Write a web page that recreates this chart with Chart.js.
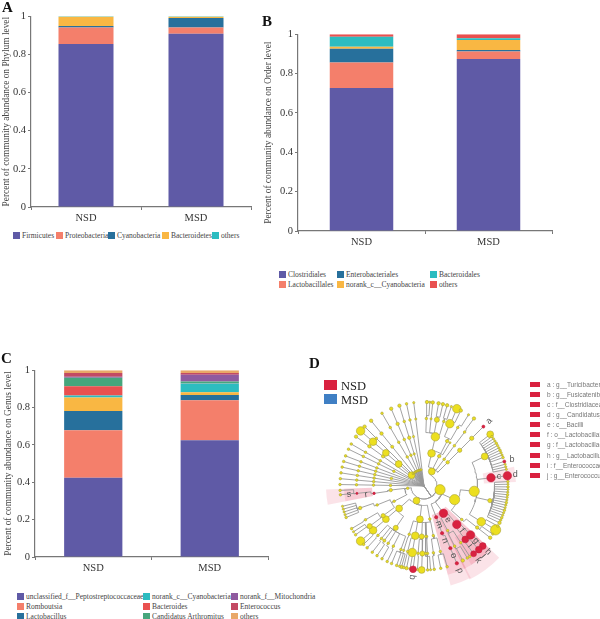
<!DOCTYPE html>
<html lang="en">
<head>
<meta charset="UTF-8">
<title>Community abundance</title>
<script src="https://cdn.jsdelivr.net/npm/chart.js"></script>
<style>
  html, body { margin: 0; padding: 0; background: #fff; }
  #page { position: relative; width: 600px; height: 619px; overflow: hidden; font-family: "Liberation Serif", serif; color: #333; }
  #page canvas { position: absolute; }
  .panel { position: absolute; font-weight: bold; font-size: 15px; color: #111; line-height: 15px; }
  .key { position: absolute; font-size: 7.5px; line-height: 9px; white-space: nowrap; color: #444; }
  .key i { position: absolute; left: -9px; top: 1px; width: 7px; height: 7px; }
  .big { position: absolute; font-size: 12.5px; line-height: 12px; color: #222; }
  .big i { position: absolute; left: -17px; top: 0; width: 13px; height: 10px; }
  .feat { position: absolute; left: 547px; font: 6.5px "Liberation Sans", sans-serif; line-height: 7px; color: #777; white-space: nowrap; }
  .feat i { position: absolute; left: -17px; top: 1px; width: 10px; height: 5px; background: #d9213f; }
</style>
</head>
<body>
<div id="page"></div>
<script>
const groups = ['NSD', 'MSD'];

// panel A, phylum level
const phylumNames = ['Firmicutes', 'Proteobacteria', 'Cyanobacteria', 'Bacteroidetes', 'others'];
const phylumNSD = [0.855, 0.086, 0.008, 0.048, 0.003];
const phylumMSD = [0.909, 0.032, 0.050, 0.007, 0.002];

// panel B, order level
const orderNames = ['Clostridiales', 'Lactobacillales', 'Enterobacteriales', 'norank_c__Cyanobacteria', 'Bacteroidales', 'others'];
const orderNSD = [0.727, 0.129, 0.071, 0.010, 0.051, 0.012];
const orderMSD = [0.874, 0.038, 0.008, 0.051, 0.009, 0.020];

// panel C, genus level. the yellow band has no entry left in the cropped legend
const genusNames = ['unclassified_f__Peptostreptococcaceae', 'Romboutsia', 'Lactobacillus', '', 'norank_c__Cyanobacteria', 'Bacteroides', 'Candidatus Arthromitus', 'norank_f__Mitochondria', 'Enterococcus', 'others'];
const genusNSD = [0.424, 0.255, 0.103, 0.072, 0.011, 0.049, 0.046, 0.006, 0.020, 0.014];
const genusMSD = [0.625, 0.215, 0.028, 0.014, 0.047, 0.002, 0.009, 0.036, 0.010, 0.014];

const featureNames = ['a : g__Turicibacter', 'b : g__Fusicatenibacter', 'c : f__Clostridiaceae_1', 'd : g__Candidatus_Arthromitus', 'e : c__Bacilli', 'f : o__Lactobacillales', 'g : f__Lactobacillaceae', 'h : g__Lactobacillus', 'i : f__Enterococcaceae', 'j : g__Enterococcus'];

const palette = ['#5f5aa6', '#f47f6b', '#27709c', '#f9b743', '#2cbcc0', '#e9504f', '#46a67c', '#8f5a9f', '#c34a63', '#e9a868'];
const phylumColors = ['#5f5aa6', '#f47f6b', '#27709c', '#f9b743', '#2cbcc0'];
const orderColors = ['#5f5aa6', '#f47f6b', '#27709c', '#f9b743', '#2cbcc0', '#e9504f'];

// cladogram: [angle clockwise from east, node size, children, letter]. depth gives the ring
const firmicutes = [13, 6, [
  [24, 6, [
    [6, 6, [
      [-26, 4, [[-38, 4], [-36, 1.5], [-34.2, 1.3], [-32.4, 1.3], [-30.6, 1.5], [-28.8, 1.3], [-27, 1.3], [-25.2, 1.5], [-23.4, 1.3], [-21.6, 1.3], [-19.8, 1.5], [-17, 1.8, null, 'b'], [-15, 1.3], [-13.2, 1.3], [-11.4, 1.3]]],
      [-7, 5, [[-7, 5, null, 'd']], 'c'],
      [12.5, 2.5, [[-3, 1.5], [-1.2, 1.3], [0.6, 1.5], [2.4, 1.3], [4.2, 1.3], [6, 1.5], [7.8, 1.3], [9.6, 1.3], [11.4, 1.5], [13.2, 1.3], [15, 1.3], [16.8, 1.5], [18.6, 1.3], [20.4, 1.3], [22.2, 1.5], [24, 1.3], [26, 2]]],
      [32, 5, [[31.5, 6], [28.5, 1.5]]]
    ]],
    [41.6, 1.5, [[38, 2, [[38, 2], [35, 1.3]]]]]
  ]],
  [54.5, 5, [
    [49.5, 5, [
      [46.4, 5, [[45.6, 4, null, 'h']], 'g'],
      [52.3, 4, [[49.3, 4, null, 'j'], [53.8, 3.5, null, 'k']], 'i']
    ], 'f'],
    [62, 1.5, [[63, 1.5, [[62.5, 2], [59, 1.5]]], [57, 1.5, [[57, 1.5]]]]]
  ], 'e'],
  [68.6, 2, [[69, 2, [[67, 2, [[67, 2, null, 'p']], 'o']], 'n']], 'm']
]];

const bacteroidetes = [-62, 4, [
  [-77, 4.5, [
    [-77, 5, [
      [-88, 1.5, [[-88, 2], [-86, 1.3]]],
      [-84, 1.3, [[-84, 2]]],
      [-79, 3, [[-80, 2], [-77, 2]]],
      [-73, 1.5, [[-74, 2], [-71, 1.3]]]
    ]],
    [-62.7, 2, [[-67.5, 5, [[-67, 5], [-64, 2]]], [-60, 1.5, [[-58, 1.3]]]]]
  ]],
  [-63, 2, [[-59, 1.2]]],
  [-53, 1.5, [[-53, 1.5, [[-53, 1.5, [[-53.5, 2]]]]]]],
  [-45, 2, [[-45, 2.5, [[-45, 2.5, [[-45, 1.8, null, 'a']]]]]]]
]];

const proteobacteria = [117, 4, [
  [138, 4, [
    [139, 4, [[139, 4.5, [[139, 5], [136, 1.5]]]]],
    [124, 3, [[133, 1.5, [[132.6, 1.5]]], [129, 1.5, [[128, 1.5]]], [126, 1.8, [[124, 1.5]]], [122, 1.5, [[120, 1.5]]], [117, 1.5, [[116, 1.5]]], [110, 1.5, [[112.7, 1.5], [109, 1.5], [105.5, 2]]]]]
  ]],
  [97, 4, [
    [100, 4.5, [[100, 5, [[97.5, 4, null, 'q'], [102, 2], [99.5, 1.5]]], [104, 1.5, [[104, 1.5]]]]],
    [92.6, 3, [[91.4, 3, [[91.6, 4]]], [95, 1.5, [[94.5, 1.3]]]]],
    [87, 1.5, [[87, 1.5, [[87.5, 1.5]]]]],
    [107, 1.5, [[107.5, 1.3, [[107, 1.3]]]]]
  ]],
  [80, 1.5, [
    [79.4, 1.5, [[76, 1.5, [[74, 1.5], [78.5, 1.5]]], [82, 1.5, [[83, 1.5]]]]],
    [88, 1.5, [[88.5, 1.5, [[85.5, 1.3]]]]]
  ]]
]];

const actinobacteria = [172, 1.5, [
  [173, 2, [[171.6, 1.5, [[173.7, 1.3, [[174, 1.5], [177, 1.5]], 's']], 'r']]],
  [153, 1.5, [
    [158, 1.5, [[161, 2, [[166, 1.3], [164, 1.3], [162, 1.3], [160, 1.3], [158, 1.5]]]]],
    [144, 2.5, [[143.5, 3, [[144.5, 1.5], [147, 1.3]]], [150, 1.5, [[149.5, 1.5]]]]]
  ]]
]];

// straight rays out of the centre: angle, then node size on each ring (0 = line only)
const rays = [
  [-179, 0, 1.5, 1.5, 1.5, 1.5], [-175, 0, 0, 1.5, 1.5, 1.5], [-171, 0, 0, 1.5, 1.5, 1.5],
  [-167, 0, 1.5, 1.5, 1.5, 1.5], [-163, 0, 0, 1.5, 1.5, 1.5], [-159, 0, 0, 1.5, 1.5, 1.5],
  [-154, 0, 1.5, 1.5, 1.5, 1.5], [-150, 0, 0, 1.5, 1.5, 1.5], [-144, 0, 0, 2, 2, 2],
  [-139, 4, 4, 4, 4.5, 5], [-135, 0, 0, 0, 1.5, 2], [-129, 0, 0, 1.8, 2, 2],
  [-120, 0, 1.5, 1.5, 1.5, 1.5], [-113, 0, 1.5, 1.5, 2, 2], [-107, 0, 1.3, 2, 1.5, 2],
  [-102, 0, 0, 1.3, 1.5, 1.5], [-97, 0, 0, 0, 1.3, 1.3],
  [-132, 1.2], [-127, 1.2], [-124, 1.2], [-121, 1.2], [-118, 1.2], [-115, 1.2], [-112, 1.2], [-109, 1.2], [-106, 1.2], [-103, 1.2], [-100, 1.2]
];

// shaded sectors: from angle, to angle, inner ring distance, outer ring distance
const sectors = [
  [43.7, 64, 30, 104], [43.7, 64, 30, 92], [43.7, 59, 60, 92],
  [63, 75, 30, 103], [63, 75, 30, 92],
  [-12, -2.5, 60, 92], [169, 178, 52, 98], [169, 178, 52, 80]
];

const ringRadius = [0, 16.5, 33.5, 50.5, 67.5, 84];

const page = document.getElementById('page');

function addCanvas(left, top, width, height) {
  const c = document.createElement('canvas');
  c.width = width;
  c.height = height;
  c.style.left = left + 'px';
  c.style.top = top + 'px';
  c.style.width = width + 'px';
  c.style.height = height + 'px';
  page.appendChild(c);
  return c;
}

function addText(cls, left, top, text) {
  const d = document.createElement('div');
  d.className = cls;
  d.style.left = left + 'px';
  d.style.top = top + 'px';
  d.textContent = text;
  page.appendChild(d);
  return d;
}

function addKey(left, top, text, color) {
  const d = addText('key', left, top, text);
  const sw = document.createElement('i');
  sw.style.background = color;
  d.appendChild(sw);
}

function stackedChart(plot, gutter, title, names, colors, nsd, msd) {
  const pad = 8, below = 24;
  const canvas = addCanvas(plot.left - gutter, plot.top - pad, plot.right - plot.left + gutter + 3, plot.bottom - plot.top + pad + below);
  new Chart(canvas, {
    type: 'bar',
    data: {
      labels: groups,
      datasets: names.map(function(name, i) {
        return { label: name, data: [nsd[i], msd[i]], backgroundColor: colors[i], categoryPercentage: 1, barPercentage: 0.5 };
      })
    },
    options: {
      responsive: false,
      animation: false,
      layout: { padding: { top: pad, right: 3, left: 0, bottom: 0 } },
      plugins: { legend: { display: false }, tooltip: { enabled: false } },
      scales: {
        x: {
          stacked: true,
          afterFit: function(s) { s.height = below; },
          grid: { drawOnChartArea: false, color: '#777', tickLength: 3 },
          border: { color: '#777', width: 1.2 },
          ticks: { color: '#333', font: { family: 'Liberation Serif', size: 10.5 }, padding: 2, maxRotation: 0 }
        },
        y: {
          stacked: true,
          min: 0,
          max: 1,
          afterFit: function(s) { s.width = gutter; },
          grid: { drawOnChartArea: false, color: '#777', tickLength: 3 },
          border: { color: '#777', width: 1.2 },
          ticks: { stepSize: 0.2, color: '#333', font: { family: 'Liberation Serif', size: 10.5 }, padding: 2, callback: function(v) { return String(+v.toFixed(1)); } },
          title: { display: true, text: title, color: '#444', padding: 0, font: { family: 'Liberation Serif', size: 9.4 } }
        }
      }
    }
  });
}

stackedChart({ left: 30.5, right: 250.5, top: 16, bottom: 207 }, 30, 'Percent of community abundance on Phylum level', phylumNames, phylumColors, phylumNSD, phylumMSD);
stackedChart({ left: 297.5, right: 552, top: 34, bottom: 231 }, 35, 'Percent of community abundance on Order level', orderNames, orderColors, orderNSD, orderMSD);
stackedChart({ left: 35, right: 268, top: 370, bottom: 557 }, 32, 'Percent of community abundance on Genus level', genusNames, palette, genusNSD, genusMSD);

addText('panel', 2, 0, 'A');
addText('panel', 262, 14, 'B');
addText('panel', 1, 351, 'C');
addText('panel', 309, 356, 'D');

[22, 65, 117, 171, 221].forEach(function(x, i) { addKey(x, 231, phylumNames[i], phylumColors[i]); });
[[288, 269.5], [288, 279.5], [346, 269.5], [346, 279.5], [439, 269.5], [439, 279.5]].forEach(function(p, i) {
  // legend is laid out by column: Clostridiales, Lactobacillales / Enterobacteriales, norank / Bacteroidales, others
  addKey(p[0], p[1], orderNames[i], orderColors[i]);
});
[[26, 592], [26, 602], [26, 611.5], null, [152, 592], [152, 602], [152, 611.5], [240, 592], [240, 602], [240, 611.5]].forEach(function(p, i) {
  if (p) addKey(p[0], p[1], genusNames[i], palette[i]);
});

['NSD', 'MSD'].forEach(function(g, i) {
  const d = addText('big', 341, 380 + i * 14, g);
  const sw = document.createElement('i');
  sw.style.background = i ? '#3f7fc4' : '#d9213f';
  d.appendChild(sw);
});
featureNames.forEach(function(f, i) {
  const d = addText('feat', 547, 380.5 + i * 10.15, f);
  d.appendChild(document.createElement('i'));
});

// turn the tree lists into line points and node points
const edgePoints = [], yellowNodes = [], redNodes = [];

function polar(angle, r) {
  const a = angle * Math.PI / 180;
  return { x: r * Math.cos(a), y: r * Math.sin(a) };
}

function addEdge(fromAngle, fromR, elbow, toAngle, toR) {
  edgePoints.push(polar(fromAngle, fromR));
  const steps = Math.ceil(Math.abs(toAngle - fromAngle) / 3) || 1;
  for (let k = 0; k <= steps; k++) {
    edgePoints.push(polar(fromAngle + (toAngle - fromAngle) * k / steps, elbow));
  }
  edgePoints.push(polar(toAngle, toR));
  edgePoints.push({ x: NaN, y: NaN });
}

function walk(node, depth, parentAngle) {
  const angle = node[0], size = node[1], kids = node[2], letter = node[3];
  const elbow = depth === 1 ? 13 : ringRadius[depth - 1] + 3;
  addEdge(parentAngle, ringRadius[depth - 1], elbow, angle, ringRadius[depth]);
  if (size > 0) {
    const p = polar(angle, ringRadius[depth]);
    p.size = size;
    p.angle = angle;
    p.letter = letter;
    (letter ? redNodes : yellowNodes).push(p);
  }
  (kids || []).forEach(function(k) { walk(k, depth + 1, angle); });
}

[firmicutes, bacteroidetes, proteobacteria, actinobacteria].forEach(function(n) { walk(n, 1, 55); });

rays.forEach(function(ray) {
  const angle = ray[0];
  edgePoints.push(polar(angle, 0), polar(angle, ringRadius[ray.length - 1]), { x: NaN, y: NaN });
  ray.slice(1).forEach(function(size, i) {
    if (size > 0) {
      const p = polar(angle, ringRadius[i + 1]);
      p.size = size;
      yellowNodes.push(p);
    }
  });
});

const sectorPlugin = {
  id: 'sectors',
  beforeDatasetsDraw(chart) {
    const ctx = chart.ctx, xs = chart.scales.x, ys = chart.scales.y;
    const cx = xs.getPixelForValue(0), cy = ys.getPixelForValue(0);
    const unit = xs.getPixelForValue(1) - cx;
    ctx.save();
    ctx.fillStyle = 'rgba(232, 90, 120, 0.17)';
    sectors.forEach(function(s) {
      ctx.beginPath();
      ctx.arc(cx, cy, s[3] * unit, s[0] * Math.PI / 180, s[1] * Math.PI / 180);
      ctx.arc(cx, cy, s[2] * unit, s[1] * Math.PI / 180, s[0] * Math.PI / 180, true);
      ctx.closePath();
      ctx.fill();
    });
    ctx.restore();
  }
};

const letterPlugin = {
  id: 'letters',
  afterDatasetsDraw(chart) {
    const ctx = chart.ctx, xs = chart.scales.x, ys = chart.scales.y;
    ctx.save();
    ctx.fillStyle = '#555';
    ctx.font = '9px "Liberation Sans"';
    ctx.textAlign = 'center';
    ctx.textBaseline = 'middle';
    redNodes.forEach(function(n) {
      const r = Math.hypot(n.x, n.y) + 8;
      const p = polar(n.angle, r);
      const flip = Math.abs(n.angle) > 90 ? n.angle - 180 : n.angle;
      ctx.save();
      ctx.translate(xs.getPixelForValue(p.x), ys.getPixelForValue(p.y));
      ctx.rotate((Math.abs(n.angle) < 20 ? 0 : flip) * Math.PI / 180);
      ctx.fillText(n.letter, 0, 0);
      ctx.restore();
    });
    ctx.restore();
  }
};

const nodeSize = function(c) { return c.raw ? c.raw.size * 0.85 : 0; };

new Chart(addCanvas(314, 376, 220, 220), {
  type: 'scatter',
  data: {
    datasets: [
      { data: yellowNodes, backgroundColor: '#ecdf1f', borderColor: '#a9a23c', borderWidth: 0.6, pointRadius: nodeSize, order: 2 },
      { data: redNodes, backgroundColor: '#d9213f', borderColor: '#c02040', borderWidth: 0.5, pointRadius: nodeSize, order: 1 },
      { data: edgePoints, showLine: true, spanGaps: false, borderColor: '#999999', borderWidth: 0.9, pointRadius: 0, order: 3 }
    ]
  },
  options: {
    responsive: false,
    animation: false,
    layout: { autoPadding: false },
    plugins: { legend: { display: false }, tooltip: { enabled: false } },
    scales: {
      x: { type: 'linear', display: false, min: -110, max: 110 },
      y: { type: 'linear', display: false, min: -110, max: 110, reverse: true }
    }
  },
  plugins: [sectorPlugin, letterPlugin]
});
</script>
</body>
</html>
